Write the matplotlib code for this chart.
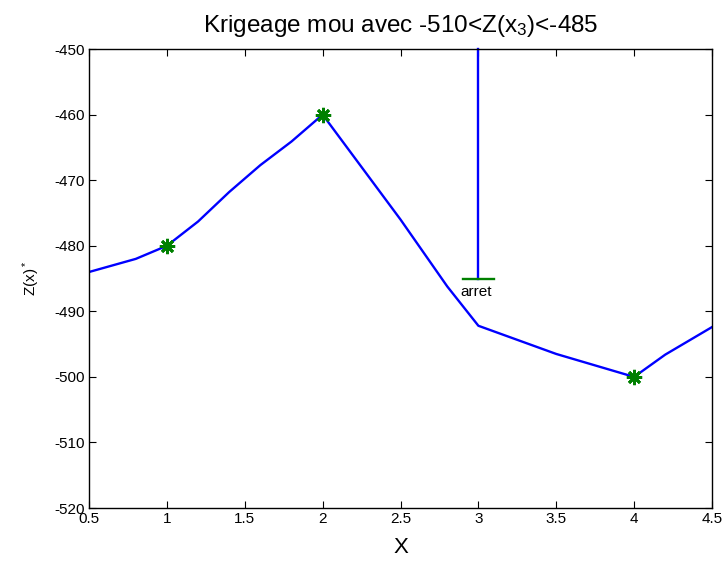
import matplotlib
matplotlib.use('Agg')
import matplotlib.pyplot as plt
import numpy as np

plt.rcParams['font.family'] = ['Liberation Sans', 'DejaVu Sans']
plt.rcParams['mathtext.fontset'] = 'custom'
plt.rcParams['mathtext.rm'] = 'Liberation Sans'
plt.rcParams['mathtext.it'] = 'Liberation Sans'
plt.rcParams['axes.unicode_minus'] = False

# kriged curve
x_grid = [0.5, 0.8, 1.0, 1.2, 1.4, 1.6, 1.8, 2.0, 2.2, 2.5, 2.8, 3.0, 3.5, 4.0, 4.2, 4.5]
z_grid = [-484, -482, -480, -476.3, -471.8, -467.7, -464.1, -460, -466.4, -476, -486.2, -492.2,
          -496.5, -500, -496.6, -492.4]

# data points
x_obs = [1, 2, 4]
z_obs = [-480, -460, -500]

# stop constraint at x3
x_stop = 3
z_top = -450
z_stop = -485
bar_half = 0.1

fig = plt.figure(figsize=(7.24, 5.62), dpi=100)
ax = fig.add_axes([0.123, 0.096, 0.8604, 0.8167])

ax.plot(x_grid, z_grid, color='#0000ff', linewidth=1.7)
ax.plot([x_stop, x_stop], [z_top, z_stop], color='#0000ff', linewidth=1.7, clip_on=False)
ax.plot([x_stop - bar_half, x_stop + bar_half], [z_stop, z_stop], color='#008000', linewidth=1.7)
ax.plot(x_obs, z_obs, linestyle='none', marker=(8, 2, 0), markersize=11,
        markeredgewidth=2, color='#008000')
ax.text(x_stop - 0.115, z_stop - 2, 'arret', fontsize=11, va='center', ha='left')

ax.set_xlim(0.5, 4.5)
ax.set_ylim(-520, -450)
ax.set_xticks(np.arange(0.5, 4.51, 0.5))
ax.set_xticklabels(['0.5', '1', '1.5', '2', '2.5', '3', '3.5', '4', '4.5'])
ax.set_yticks(np.arange(-520, -449, 10))
ax.tick_params(direction='in', top=True, right=True, length=5, labelsize=11, pad=3)
for s in ax.spines.values():
    s.set_linewidth(1.0)

ax.set_title('Krigeage mou avec -510<Z(x$_3$)<-485', fontsize=17.5, pad=12)
ax.set_xlabel('X', fontsize=16, labelpad=8)
ax.set_ylabel('Z(x)$^*$', fontsize=11, labelpad=9)

fig.savefig('out.png', dpi=100)
